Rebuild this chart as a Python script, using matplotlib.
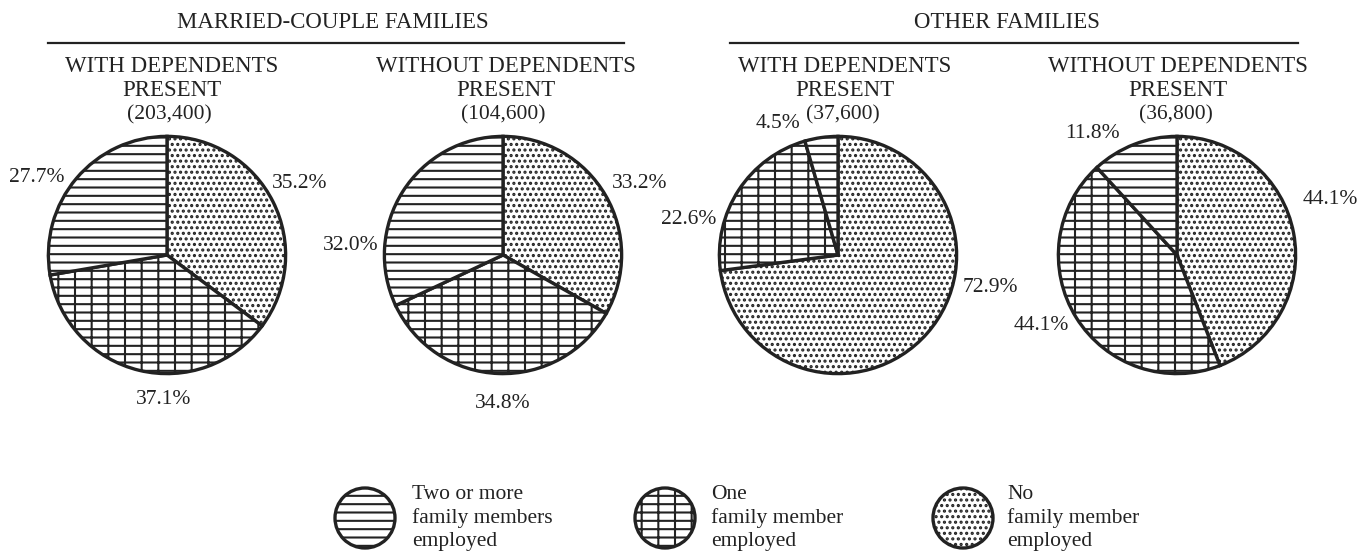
import matplotlib
matplotlib.use('Agg')
import matplotlib.pyplot as plt
from matplotlib.patches import Circle

plt.rcParams['font.family'] = ['Liberation Serif', 'DejaVu Serif']
plt.rcParams['hatch.linewidth'] = 1.5

# data
groups = ['MARRIED-COUPLE FAMILIES', 'OTHER FAMILIES']
subtitles = ['WITH DEPENDENTS\nPRESENT', 'WITHOUT DEPENDENTS\nPRESENT',
             'WITH DEPENDENTS\nPRESENT', 'WITHOUT DEPENDENTS\nPRESENT']
totals = ['(203,400)', '(104,600)', '(37,600)', '(36,800)']
no_member = [35.2, 33.2, 72.9, 44.1]
one_member = [37.1, 34.8, 22.6, 44.1]
two_or_more = [27.7, 32.0, 4.5, 11.8]
legend_labels = ['Two or more\nfamily members\nemployed',
                 'One\nfamily member\nemployed',
                 'No\nfamily member\nemployed']

INK = '#222222'
HATCHES = ['...', '--|', '--']   # no member, one member, two or more
W, H = 1361, 553

fig = plt.figure(figsize=(W / 100, H / 100), dpi=100)

# layout in pixels
pie_x = [167, 503, 838, 1177]
pie_y = 255
r = 121
sub_x = [172, 506, 845, 1178]
tot_x = [169, 503, 843, 1176]
# label spots for (no member, one member, two or more)
label_xy = [
    [(300, 183), (164, 400), (37, 177)],
    [(640, 183), (503, 404), (351, 245)],
    [(990, 288), (689, 220), (778, 123)],
    [(1330, 200), (1041, 325), (1092, 133)],
]

for i in range(4):
    ax = fig.add_axes([(pie_x[i] - r) / W, (H - pie_y - r) / H, 2 * r / W, 2 * r / H])
    vals = [no_member[i], one_member[i], two_or_more[i]]
    wedges, _ = ax.pie(vals, startangle=90, counterclock=False, radius=1,
                       colors=['white'] * 3,
                       wedgeprops=dict(edgecolor=INK, linewidth=2.4))
    for w, h in zip(wedges, HATCHES):
        w.set_hatch(h)
    ax.set_xlim(-1.02, 1.02)
    ax.set_ylim(-1.02, 1.02)
    ax.axis('off')

# overlay for text, rules and legend, in pixel coordinates
ov = fig.add_axes([0, 0, 1, 1])
ov.set_xlim(0, W)
ov.set_ylim(H, 0)
ov.axis('off')

ov.text(333, 23, groups[0], ha='center', va='center', fontsize=16.5, color=INK)
ov.text(1007, 23, groups[1], ha='center', va='center', fontsize=16.5, color=INK)
ov.plot([48, 624], [43, 43], color=INK, lw=1.6)
ov.plot([730, 1298], [43, 43], color=INK, lw=1.6)

for i in range(4):
    line1, line2 = subtitles[i].split('\n')
    ov.text(sub_x[i], 67, line1, ha='center', va='center', fontsize=16.5, color=INK)
    ov.text(sub_x[i], 90, line2, ha='center', va='center', fontsize=16.5, color=INK)
    ov.text(tot_x[i], 115, totals[i], ha='center', va='center', fontsize=15.5, color=INK)
    vals = [no_member[i], one_member[i], two_or_more[i]]
    for v, (lx, ly) in zip(vals, label_xy[i]):
        ov.text(lx, ly, f'{v:.1f}%', ha='center', va='center', fontsize=15.5, color=INK)

# legend
leg_icon_x = [365, 665, 963]
leg_text_x = [412, 711, 1007]
leg_hatch = [HATCHES[2], HATCHES[1], HATCHES[0]]
for cx, tx, h, lab in zip(leg_icon_x, leg_text_x, leg_hatch, legend_labels):
    ov.add_patch(Circle((cx, 518), 30, facecolor='white', edgecolor=INK, lw=2.4, hatch=h))
    ov.text(tx, 518, lab, ha='left', va='center', fontsize=15.5, color=INK, linespacing=1.25)

fig.savefig('out.png', dpi=100, facecolor='white')
